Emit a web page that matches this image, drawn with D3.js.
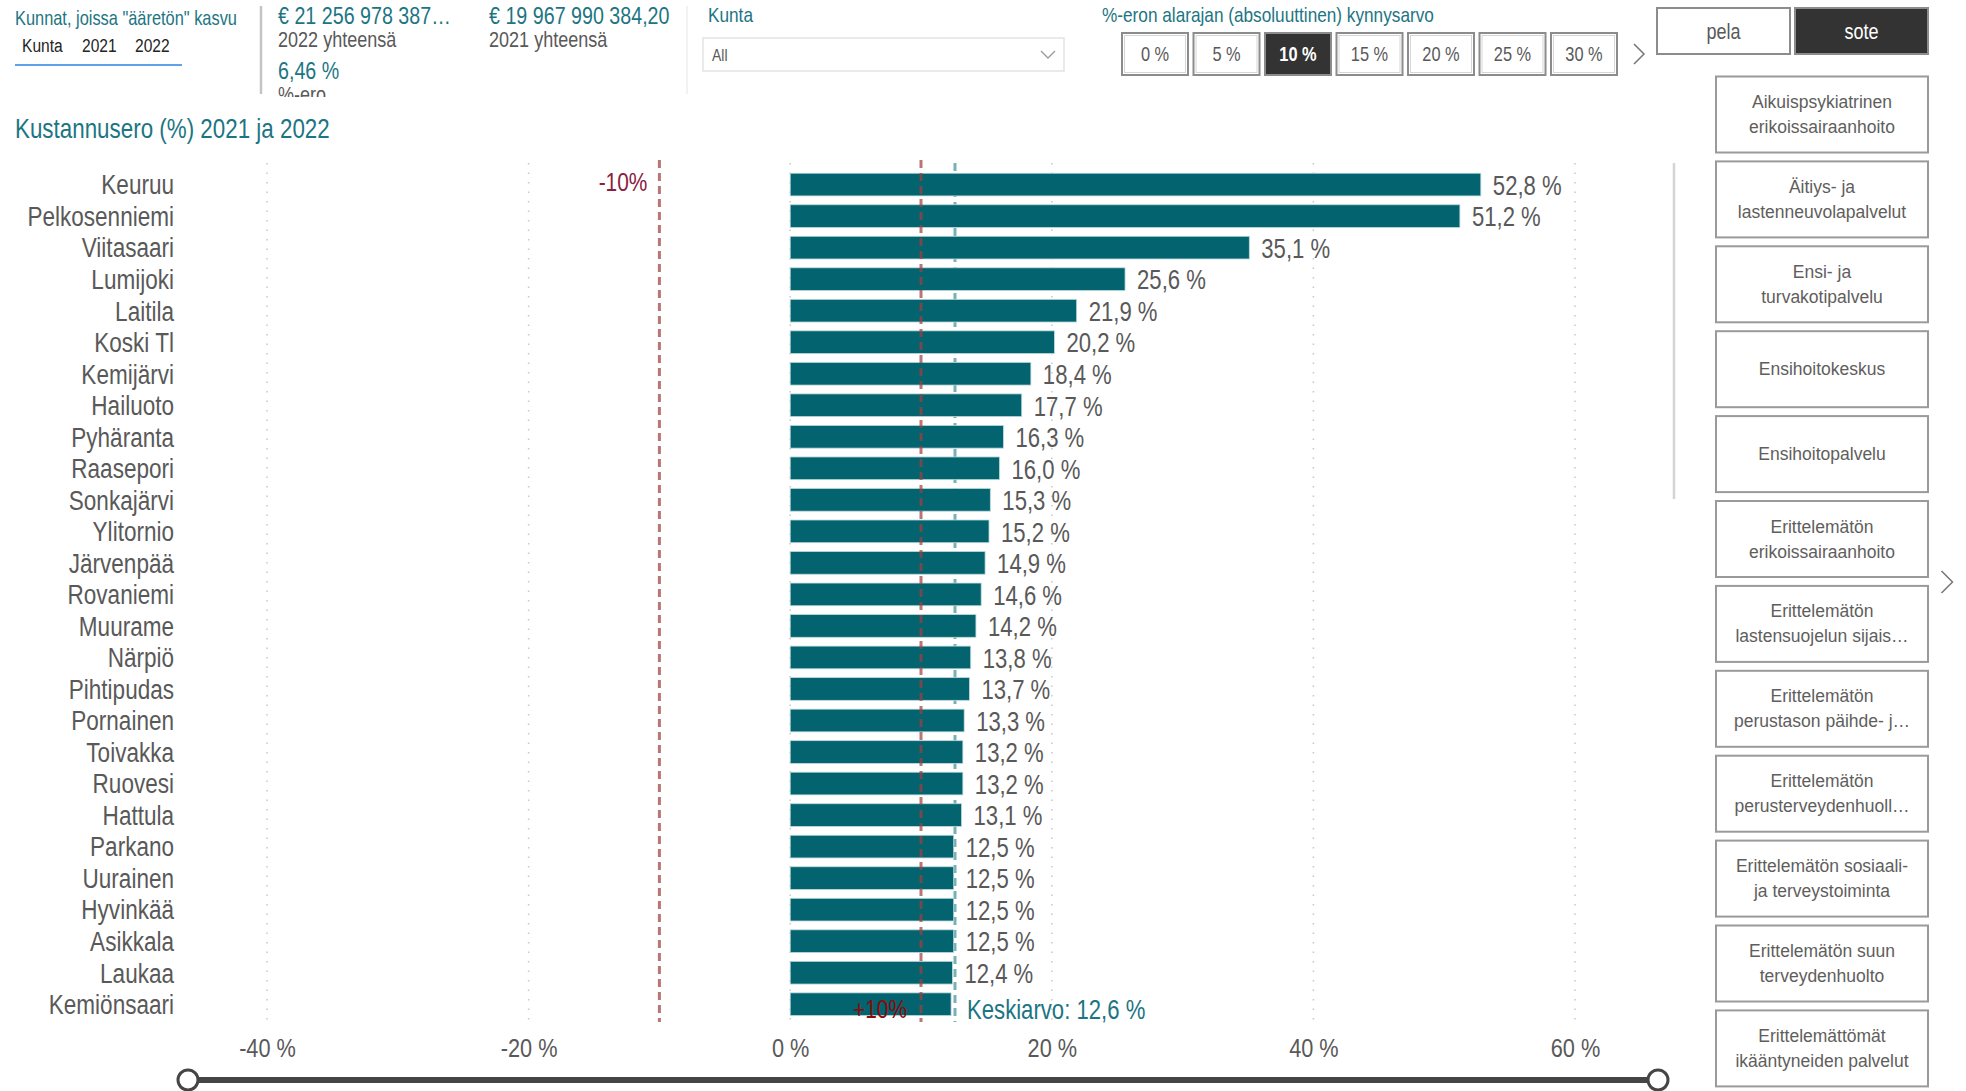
<!DOCTYPE html>
<html>
<head>
<meta charset="utf-8">
<script src="https://cdn.jsdelivr.net/npm/d3@7/dist/d3.min.js"></script>
<style>
    body { margin: 0; background: #fff; }
    svg { display: block; }
</style>
</head>
<body>
<div id="chart"></div>
<script>
// Kustannusero (%) 2021 ja 2022 - data
const municipalities = ['Keuruu', 'Pelkosenniemi', 'Viitasaari', 'Lumijoki', 'Laitila', 'Koski Tl',
    'Kemijärvi', 'Hailuoto', 'Pyhäranta', 'Raasepori', 'Sonkajärvi', 'Ylitornio', 'Järvenpää',
    'Rovaniemi', 'Muurame', 'Närpiö', 'Pihtipudas', 'Pornainen', 'Toivakka', 'Ruovesi', 'Hattula',
    'Parkano', 'Uurainen', 'Hyvinkää', 'Asikkala', 'Laukaa', 'Kemiönsaari'];
const changePct = [52.8, 51.2, 35.1, 25.6, 21.9, 20.2, 18.4, 17.7, 16.3, 16.0, 15.3, 15.2, 14.9,
    14.6, 14.2, 13.8, 13.7, 13.3, 13.2, 13.2, 13.1, 12.5, 12.5, 12.5, 12.5, 12.4, 12.3];
const xTicks = [-40, -20, 0, 20, 40, 60];
const meanPct = 12.6;
const thresholdPct = 10;

// slicers / cards
const thresholdButtons = ['0 %', '5 %', '10 %', '15 %', '20 %', '25 %', '30 %'];
const selectedThreshold = '10 %';
const modeButtons = ['pela', 'sote'];
const selectedMode = 'sote';
const serviceButtons = [
    ['Aikuispsykiatrinen', 'erikoissairaanhoito'],
    ['Äitiys- ja', 'lastenneuvolapalvelut'],
    ['Ensi- ja', 'turvakotipalvelu'],
    ['Ensihoitokeskus'],
    ['Ensihoitopalvelu'],
    ['Erittelemätön', 'erikoissairaanhoito'],
    ['Erittelemätön', 'lastensuojelun sijais…'],
    ['Erittelemätön', 'perustason päihde- j…'],
    ['Erittelemätön', 'perusterveydenhuoll…'],
    ['Erittelemätön sosiaali-', 'ja terveystoiminta'],
    ['Erittelemätön suun', 'terveydenhuolto'],
    ['Erittelemättömät', 'ikääntyneiden palvelut']
];

const W = 1966, H = 1091;
const FONT = "'Liberation Sans', Arial, sans-serif";
const SQUEEZE = 0.82; // fake a narrow face, no narrow font installed
const TEAL = '#1c7583';
const GREY = '#595959';

const svg = d3.select('#chart').append('svg')
    .attr('width', W)
    .attr('height', H);

svg.append('rect').attr('width', W).attr('height', H).attr('fill', '#fff');

// text helper; narrow text is drawn squeezed around its anchor point
function txt(g, x, y, s, size, fill, anchor, wide) {
    return g.append('text')
        .attr('transform', `translate(${x},${y}) scale(${wide ? 1 : SQUEEZE},1)`)
        .attr('dominant-baseline', 'central')
        .attr('text-anchor', anchor || 'start')
        .attr('font-family', FONT)
        .attr('font-size', size)
        .attr('fill', fill)
        .text(s);
}

function chevron(g, x, y, h) {
    g.append('polyline')
        .attr('points', `${x - h / 2},${y - h} ${x + h / 2},${y} ${x - h / 2},${y + h}`)
        .attr('fill', 'none')
        .attr('stroke', '#777')
        .attr('stroke-width', 1.5);
}

// ---- header ----
const header = svg.append('g');
header.append('defs').append('clipPath').attr('id', 'cardClip')
    .append('rect').attr('x', 0).attr('y', 0).attr('width', 700).attr('height', 97);

txt(header, 15, 18, 'Kunnat, joissa "ääretön" kasvu', 20, TEAL);
[['Kunta', 22], ['2021', 82], ['2022', 135]].forEach(d => txt(header, d[1], 45, d[0], 19, '#252423'));
header.append('line').attr('x1', 15).attr('x2', 182).attr('y1', 65).attr('y2', 65)
    .attr('stroke', '#5ea3ea').attr('stroke-width', 2);
header.append('line').attr('x1', 261).attr('x2', 261).attr('y1', 6).attr('y2', 94)
    .attr('stroke', '#c4c4c4').attr('stroke-width', 2.5);

const cards = header.append('g').attr('clip-path', 'url(#cardClip)');
txt(cards, 278, 16, '€ 21 256 978 387…', 24, TEAL);
txt(cards, 278, 39, '2022 yhteensä', 22, GREY);
txt(cards, 278, 71, '6,46 %', 24, TEAL);
txt(cards, 278, 94, '%-ero', 22, GREY);
txt(cards, 489, 16, '€ 19 967 990 384,20', 24, TEAL);
txt(cards, 489, 39, '2021 yhteensä', 22, GREY);
header.append('line').attr('x1', 687).attr('x2', 687).attr('y1', 6).attr('y2', 94)
    .attr('stroke', '#eeeeee').attr('stroke-width', 1.5);

// Kunta dropdown
txt(header, 708, 15, 'Kunta', 21, TEAL);
header.append('rect').attr('x', 703).attr('y', 38).attr('width', 361).attr('height', 33)
    .attr('fill', '#fff').attr('stroke', '#e3e3e3').attr('stroke-width', 1.5);
txt(header, 712, 55, 'All', 17, GREY);
header.append('polyline').attr('points', '1041,51 1048,58 1055,51')
    .attr('fill', 'none').attr('stroke', '#999').attr('stroke-width', 1.3);

// threshold buttons
txt(header, 1102, 15, '%-eron alarajan (absoluuttinen) kynnysarvo', 21, TEAL);
thresholdButtons.forEach((b, i) => {
    const x = 1122 + i * 71.5;
    const sel = b === selectedThreshold;
    header.append('rect').attr('x', x).attr('y', 33).attr('width', 66).attr('height', 42)
        .attr('fill', sel ? '#333' : '#fff').attr('stroke', '#8c8c8c').attr('stroke-width', 2);
    header.append('rect').attr('x', x + 2.5).attr('y', 35.5).attr('width', 61).attr('height', 37)
        .attr('fill', 'none').attr('stroke', sel ? '#333' : '#d6d6d6').attr('stroke-width', 1);
    txt(header, x + 33, 54, b, 20, sel ? '#fff' : GREY, 'middle')
        .attr('font-weight', sel ? 'bold' : 'normal');
});
chevron(header, 1639, 54, 10);

// pela / sote
modeButtons.forEach((b, i) => {
    const x = 1657 + i * 138;
    const sel = b === selectedMode;
    header.append('rect').attr('x', x).attr('y', 8).attr('width', 133).attr('height', 46)
        .attr('fill', sel ? '#333' : '#fff').attr('stroke', '#8c8c8c').attr('stroke-width', 2);
    txt(header, x + 66.5, 31, b, 22, sel ? '#fff' : GREY, 'middle');
});

// service buttons on the right
serviceButtons.forEach((lines, i) => {
    const y = 76.5 + i * 84.9;
    header.append('rect').attr('x', 1716).attr('y', y).attr('width', 212).attr('height', 76)
        .attr('fill', '#fff').attr('stroke', '#9a9a9a').attr('stroke-width', 2);
    lines.forEach((l, j) => {
        const cy = y + 38 + (j - (lines.length - 1) / 2) * 25;
        txt(header, 1822, cy, l, 17.5, '#605e5c', 'middle', true);
    });
});
chevron(header, 1947, 582, 11);

// ---- chart ----
txt(svg, 15, 128, 'Kustannusero (%) 2021 ja 2022', 27.3, TEAL);

const x = d3.scaleLinear().domain([-40, 60]).range([267, 1575]);
const y = d3.scaleBand().domain(municipalities).range([168.5, 1020.3])
    .paddingInner(0.28).paddingOuter(0.15);
const gridTop = 163, gridBottom = 1022;
const rowMid = d => y(d) + y.bandwidth() / 2;

const chart = svg.append('g');

// dotted gridlines
chart.append('g').selectAll('line')
    .data(xTicks)
    .enter()
    .append('line')
    .attr('x1', d => x(d)).attr('x2', d => x(d))
    .attr('y1', gridTop).attr('y2', gridBottom)
    .attr('stroke', '#c8c8c8')
    .attr('stroke-width', 1.5)
    .attr('stroke-dasharray', '1.5,8');

// x axis labels
const xAxis = d3.axisBottom(x).tickValues(xTicks).tickSize(0).tickPadding(0)
    .tickFormat(d => `${d} %`);
const axisG = chart.append('g').attr('transform', 'translate(0,1048)').call(xAxis);
axisG.select('.domain').remove();
axisG.selectAll('text')
    .attr('y', 0)
    .attr('dy', null)
    .attr('dominant-baseline', 'central')
    .attr('transform', `scale(${SQUEEZE},1)`)
    .attr('font-family', FONT)
    .attr('font-size', 26.5)
    .attr('fill', GREY);

// mean line (behind bars)
chart.append('line')
    .attr('x1', x(meanPct)).attr('x2', x(meanPct))
    .attr('y1', gridTop).attr('y2', gridBottom)
    .attr('stroke', '#79b0b6')
    .attr('stroke-width', 3)
    .attr('stroke-dasharray', '8,5');

// bars
chart.append('g').selectAll('rect')
    .data(municipalities)
    .enter()
    .append('rect')
    .attr('x', x(0))
    .attr('y', d => y(d))
    .attr('width', (d, i) => x(changePct[i]) - x(0))
    .attr('height', y.bandwidth())
    .attr('fill', '#03636f')
    .attr('stroke', '#bcdadd')
    .attr('stroke-width', 0.8);

// category labels
chart.append('g').selectAll('text')
    .data(municipalities)
    .enter()
    .append('text')
    .attr('transform', d => `translate(174,${rowMid(d)}) scale(${SQUEEZE},1)`)
    .attr('text-anchor', 'end')
    .attr('dominant-baseline', 'central')
    .attr('font-family', FONT)
    .attr('font-size', 27.5)
    .attr('fill', GREY)
    .text(d => d);

// value labels (last one is hidden under the mean label)
const fmt = v => v.toFixed(1).replace('.', ',') + ' %';
chart.append('g').selectAll('text')
    .data(municipalities.slice(0, -1))
    .enter()
    .append('text')
    .attr('transform', (d, i) => `translate(${x(changePct[i]) + 12},${rowMid(d) + 1}) scale(${SQUEEZE},1)`)
    .attr('dominant-baseline', 'central')
    .attr('font-family', FONT)
    .attr('font-size', 27)
    .attr('fill', GREY)
    .text((d, i) => fmt(changePct[i]));

// +-10 % threshold lines
[-thresholdPct, thresholdPct].forEach(t => {
    chart.append('line')
        .attr('x1', x(t)).attr('x2', x(t))
        .attr('y1', gridTop - 3).attr('y2', gridBottom)
        .attr('stroke', '#a0403f')
        .attr('stroke-opacity', 0.72)
        .attr('stroke-width', 3)
        .attr('stroke-dasharray', '8,5');
});
const lastRow = rowMid(municipalities[municipalities.length - 1]) + 5;
txt(chart, x(-thresholdPct) - 12, rowMid(municipalities[0]) - 2, `-${thresholdPct}%`, 25.5, '#8a2040', 'end');
txt(chart, x(thresholdPct) - 14, lastRow, `+${thresholdPct}%`, 25.5, '#8b0a0a', 'end');
txt(chart, x(meanPct) + 12, lastRow, 'Keskiarvo: ' + fmt(meanPct), 27, TEAL);

// scrollbar
chart.append('line').attr('x1', 1674).attr('x2', 1674).attr('y1', 163).attr('y2', 499)
    .attr('stroke', '#d4d4d4').attr('stroke-width', 2.5);

// range slider
const slider = chart.append('g');
slider.append('line').attr('x1', 188).attr('x2', 1658).attr('y1', 1080).attr('y2', 1080)
    .attr('stroke', '#454545').attr('stroke-width', 6);
[188, 1658].forEach(cx => {
    slider.append('circle').attr('cx', cx).attr('cy', 1080).attr('r', 10)
        .attr('fill', '#fff').attr('stroke', '#454545').attr('stroke-width', 3);
});
</script>
</body>
</html>
